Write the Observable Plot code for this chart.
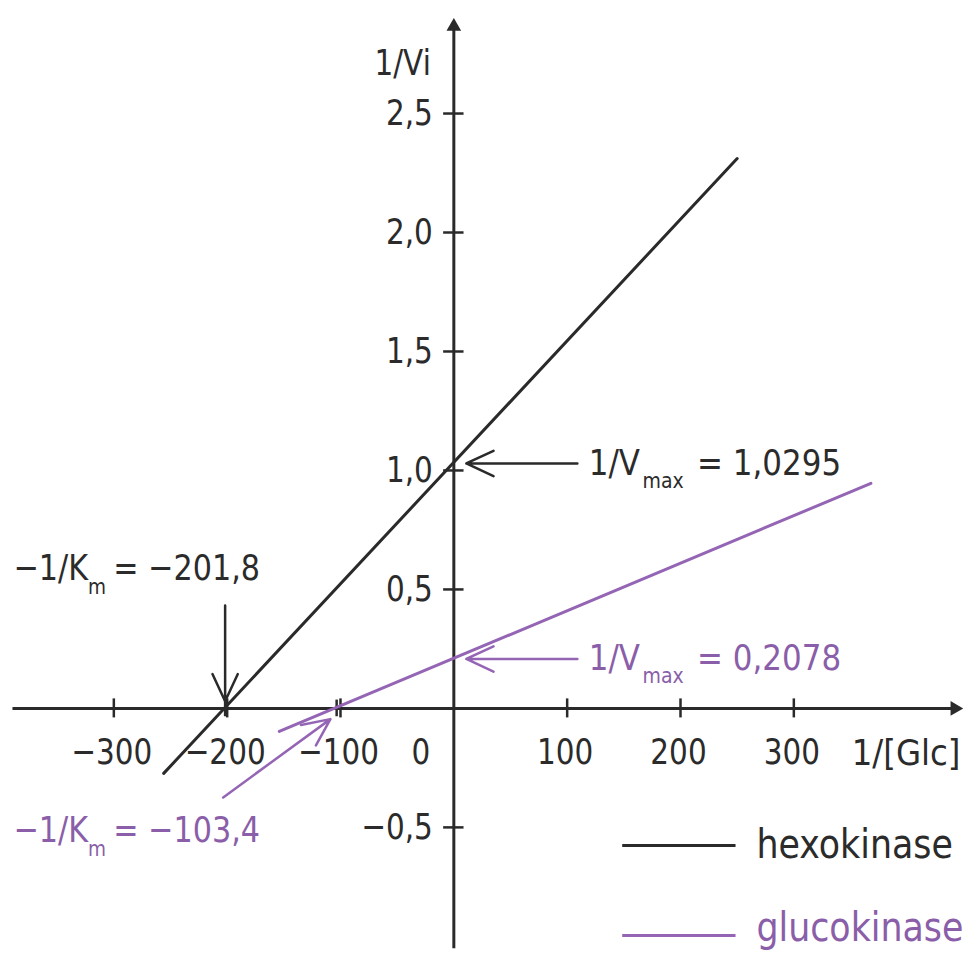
<!DOCTYPE html>
<html><head><meta charset="utf-8">
<script src="https://cdn.jsdelivr.net/npm/d3@7"></script>
<script src="https://cdn.jsdelivr.net/npm/@observablehq/plot@0.6"></script>
<style>body{margin:0;background:#fff}#chart svg{display:block}</style>
</head><body><div id="chart"></div>
<script>
// ---- data ----
const xTicks = [-300, -200, -100, 0, 100, 200, 300];
const yTicks = [-0.5, 0.5, 1.0, 1.5, 2.0, 2.5];
const enzymes = ["hexokinase", "glucokinase"];
const vmaxInv = [1.0295, 0.2078];      // 1/Vmax (y-intercepts)
const kmInv = [-201.8, -103.4];        // -1/Km (x-intercepts)
const hexoLine = [{x: -256, y: -0.273}, {x: 250, y: 2.311}];
const glucoLine = [{x: -154, y: -0.097}, {x: 368, y: 0.946}];
const xTitle = "1/[Glc]";
const yTitle = "1/Vi";

// ---- style ----
const BLACK = "#2a2a2a", TEXT = "#2b2b2b", PURPLE = "#9465b4", PTEXT = "#8a5ea8";
const FONT = "DejaVu Sans";
const SX = 0.82;      // tick labels / titles
const SXA = 0.86;     // annotation labels

const comma = s => s.replace(".", ",").replace("-", "\u2212");
const fmt1 = d => comma(d3.format(".1f")(d));
const fmtV = d => comma(String(d));

function squeeze(t, sx) {
  const x = t.getAttribute("x");
  if (x != null) t.setAttribute("x", +x / sx);
  t.setAttribute("transform", (t.getAttribute("transform") || "") + ` scale(${sx},1)`);
}

function condense(sx) {
  return function(index, scales, values, dims, ctx, next) {
    const g = next(index, scales, values, dims, ctx);
    g.querySelectorAll("text").forEach(t => squeeze(t, sx));
    return g;
  };
}

function subLabel(data, opts, parts, {subSize = 22, subDy = 13, dxSub = 3, dxAfter = 4, sx = SXA} = {}) {
  return Plot.text(data, {
    ...opts,
    text: d => parts(d).join(""),
    render(index, scales, values, dims, ctx, next) {
      const g = next(index, scales, values, dims, ctx);
      const texts = g.querySelectorAll("text");
      texts.forEach((t, k) => {
        const [a, b, c] = parts(data[index[k]]);
        t.textContent = "";
        const ns = "http://www.w3.org/2000/svg";
        const t1 = document.createElementNS(ns, "tspan"); t1.textContent = a;
        const t2 = document.createElementNS(ns, "tspan"); t2.textContent = b;
        t2.setAttribute("font-size", subSize); t2.setAttribute("dy", subDy); t2.setAttribute("dx", dxSub);
        const t3 = document.createElementNS(ns, "tspan"); t3.textContent = c;
        t3.setAttribute("dy", -subDy); t3.setAttribute("dx", dxAfter);
        t.append(t1, t2, t3);
        squeeze(t, sx);
      });
      return g;
    }
  });
}

const txt = {fontFamily: FONT, fontSize: 36, fill: TEXT, render: condense(SX)};
const ann = {textAnchor: "start", fontFamily: FONT, fontSize: 36};
const kmOpts = {dxSub: 0, dxAfter: -3, sx: 0.84, subDy: 14};

const chart = Plot.plot({
  width: 969,
  height: 953,
  marginTop: 0, marginRight: 0, marginBottom: 0, marginLeft: 0,
  x: {domain: [-400, 455], axis: null},
  y: {domain: [-1.03, 2.975], axis: null},
  style: {background: "white", overflow: "visible"},
  marks: [
    // axes
    Plot.ruleY([0], {x1: -389, x2: 440, stroke: BLACK, strokeWidth: 3}),
    Plot.ruleX([0], {y1: -1.01, y2: 2.86, stroke: BLACK, strokeWidth: 3}),
    Plot.dot([0], {x: 442, y: 0, symbol: "triangle2", rotate: 90, r: 7, fill: BLACK, stroke: "none"}),
    Plot.dot([0], {x: 0, y: 2.866, symbol: "triangle2", r: 7, fill: BLACK, stroke: "none"}),
    // ticks
    Plot.ruleX(xTicks.filter(d => d !== 0), {x: d => d, y1: -0.04, y2: 0.04, stroke: BLACK, strokeWidth: 2.5}),
    Plot.ruleX(kmInv, {x: d => d, y1: -0.035, y2: 0.035, stroke: BLACK, strokeWidth: 2.5}),
    Plot.ruleY(yTicks, {y: d => d, x1: -9, x2: 9, stroke: BLACK, strokeWidth: 2.5}),
    // tick labels
    Plot.text(xTicks.filter(d => d !== 0), {...txt, x: d => d, y: -0.185, dx: -2, text: d => comma(String(d))}),
    Plot.text([0], {...txt, x: 0, y: -0.185, dx: -33, text: d => String(d)}),
    Plot.text(yTicks, {...txt, x: 0, y: d => d, dx: -21, textAnchor: "end", text: fmt1}),
    // axis titles
    Plot.text([yTitle], {...txt, x: 0, y: 2.71, dx: -23, textAnchor: "end", text: d => d}),
    Plot.text([xTitle], {...txt, render: condense(0.9), x: 447, y: -0.19, textAnchor: "end", text: d => d}),
    // data lines
    Plot.line(hexoLine, {x: "x", y: "y", stroke: BLACK, strokeWidth: 3}),
    Plot.line(glucoLine, {x: "x", y: "y", stroke: PURPLE, strokeWidth: 3}),
    // annotation arrows
    Plot.arrow([kmInv[0]], {x1: d => d, x2: d => d, y1: 0.433, y2: 0.03, stroke: BLACK, strokeWidth: 2.5, headLength: 18, headAngle: 50}),
    Plot.arrow([vmaxInv[0]], {x1: 109, x2: 11, y1: d => d, y2: d => d, stroke: BLACK, strokeWidth: 2.5, headLength: 18, headAngle: 50}),
    Plot.arrow([vmaxInv[1]], {x1: 109, x2: 11, y1: d => d, y2: d => d, stroke: PURPLE, strokeWidth: 2.5, headLength: 18, headAngle: 50}),
    Plot.arrow([kmInv[1]], {x1: -203.5, y1: -0.374, x2: d => d - 5.5, y2: -0.045, stroke: PURPLE, strokeWidth: 2.5, headLength: 18, headAngle: 50}),
    // annotation labels
    subLabel([vmaxInv[0]], {...ann, x: 119, y: d => d, fill: TEXT}, d => ["1/V", "max", " = " + fmtV(d)]),
    subLabel([vmaxInv[1]], {...ann, x: 119, y: d => d, fill: PTEXT}, d => ["1/V", "max", " = " + fmtV(d)]),
    subLabel([kmInv[0]], {...ann, x: -388.5, y: 0.588, fill: TEXT}, d => ["\u22121/K", "m", " = " + fmtV(d)], kmOpts),
    subLabel([kmInv[1]], {...ann, x: -388.5, y: -0.513, fill: PTEXT}, d => ["\u22121/K", "m", " = " + fmtV(d)], kmOpts),
    // legend
    Plot.ruleY([-0.576], {x1: 149, x2: 249, stroke: BLACK, strokeWidth: 3}),
    Plot.ruleY([-0.954], {x1: 149, x2: 249, stroke: PURPLE, strokeWidth: 3}),
    Plot.text([enzymes[0]], {...txt, render: condense(0.87), fontSize: 40, x: 267, y: -0.576, textAnchor: "start", text: d => d}),
    Plot.text([enzymes[1]], {...txt, render: condense(0.87), fontSize: 40, fill: PTEXT, x: 267, y: -0.925, textAnchor: "start", text: d => d})
  ]
});
document.getElementById("chart").append(chart);
</script>
</body></html>
